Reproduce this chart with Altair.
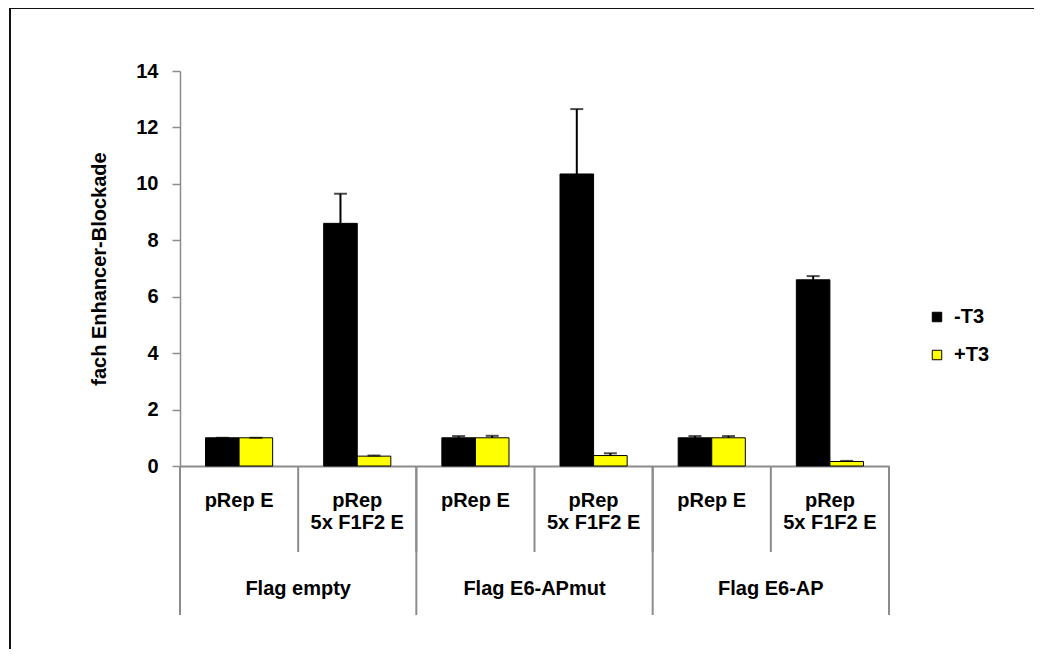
import altair as alt
import pandas as pd

groups = ["Flag empty", "Flag E6-APmut", "Flag E6-AP"]
subgroups = ["pRep E", "pRep|5x F1F2 E"]
treatments = ["-T3", "+T3"]
colors = ["#000000", "#FFFF00"]

# values [group][subgroup][treatment]
values = [
    [[1.0, 1.0], [8.6, 0.35]],
    [[1.0, 1.0], [10.35, 0.37]],
    [[1.0, 1.0], [6.6, 0.16]],
]
errors = [
    [[0.0, 0.0], [1.05, 0.02]],
    [[0.06, 0.07], [2.3, 0.08]],
    [[0.06, 0.06], [0.13, 0.02]],
]

W, H = 709, 395

cats = [g + "::" + s for g in groups for s in subgroups]

rows = []
for gi, g in enumerate(groups):
    for si, s in enumerate(subgroups):
        for ti, t in enumerate(treatments):
            v = values[gi][si][ti]
            e = errors[gi][si][ti]
            rows.append({"cat": g + "::" + s, "trt": t, "value": v, "upper": v + e})
df = pd.DataFrame(rows)

font = "Liberation Sans"
FS = 20

xscale = alt.Scale(domain=cats, paddingInner=0, paddingOuter=0)
xoff = alt.XOffset("trt:N", scale=alt.Scale(domain=treatments, paddingInner=0, paddingOuter=0.76), sort=treatments)

bars = alt.Chart(df).mark_bar(stroke="#000000", strokeWidth=1).encode(
    x=alt.X("cat:N", scale=xscale, sort=cats,
            axis=alt.Axis(title=None, ticks=False, domainColor="#8c8c8c", domainWidth=2,
                          labelAngle=0, labelFont=font, labelFontWeight="bold", labelFontSize=FS,
                          labelColor="#000000", labelPadding=24, labelLineHeight=22,
                          labelBaseline="top",
                          labelExpr="split(split(datum.label, '::')[1], '|')")),
    xOffset=xoff,
    y=alt.Y("value:Q", scale=alt.Scale(domain=[0, 14], nice=False),
            axis=alt.Axis(title="fach Enhancer-Blockade", values=list(range(0, 15, 2)),
                          grid=False, domainColor="#8c8c8c", domainWidth=1.5,
                          tickColor="#8c8c8c", tickSize=8, tickWidth=1.5,
                          labelFont=font, labelFontWeight="bold", labelFontSize=FS,
                          labelColor="#000000", labelPadding=14,
                          titleFont=font, titleFontWeight="bold", titleFontSize=FS,
                          titleColor="#000000", titlePadding=26)),
    color=alt.Color("trt:N", scale=alt.Scale(domain=treatments, range=colors), sort=treatments,
                    legend=alt.Legend(title=None, orient="none", legendX=747, legendY=236,
                                      symbolType="square", symbolSize=90,
                                      symbolStrokeColor="#000000", symbolStrokeWidth=1,
                                      labelFont=font, labelFontWeight="bold", labelFontSize=FS,
                                      labelColor="#000000", rowPadding=18, labelOffset=7)),
)

err_rule = alt.Chart(df).mark_rule(color="#000000", strokeWidth=2).encode(
    x=alt.X("cat:N", scale=xscale, sort=cats),
    xOffset=xoff,
    y="value:Q",
    y2="upper:Q",
)

err_cap = alt.Chart(df).mark_tick(color="#000000", size=13, thickness=2).encode(
    x=alt.X("cat:N", scale=xscale, sort=cats),
    xOffset=xoff,
    y="upper:Q",
)

sep_df = pd.DataFrame({"cat": cats})
sub_rules = alt.Chart(sep_df).mark_rule(color="#8c8c8c", strokeWidth=2).encode(
    x=alt.X("cat:N", scale=xscale, sort=cats, bandPosition=0),
    y=alt.value(H),
    y2=alt.value(H + 86),
)

grp_df = pd.DataFrame({
    "cat": [g + "::" + subgroups[0] for g in groups],
    "mid": [g + "::" + subgroups[1] for g in groups],
    "group": groups,
})
grp_rules = alt.Chart(grp_df).mark_rule(color="#8c8c8c", strokeWidth=2).encode(
    x=alt.X("cat:N", scale=xscale, sort=cats, bandPosition=0),
    y=alt.value(H),
    y2=alt.value(H + 149),
)
end_rule = alt.Chart(grp_df).mark_rule(color="#8c8c8c", strokeWidth=2).encode(
    x=alt.value(W),
    y=alt.value(H),
    y2=alt.value(H + 149),
)
grp_text = alt.Chart(grp_df).mark_text(font=font, fontWeight="bold", fontSize=FS,
                                        color="#000000", baseline="middle").encode(
    x=alt.X("mid:N", scale=xscale, sort=cats, bandPosition=0),
    y=alt.value(H + 123),
    text="group:N",
)

frame = alt.Chart(grp_df).mark_rect(fill=None, stroke="#111111", strokeWidth=2).encode(
    x=alt.value(-170), x2=alt.value(1000),
    y=alt.value(-63), y2=alt.value(800),
)

chart = alt.layer(frame, bars, err_rule, err_cap, sub_rules, grp_rules, end_rule, grp_text).properties(
    width=W, height=H,
    autosize=alt.AutoSizeParams(type="none"),
    padding={"left": 172, "top": 63, "right": 145, "bottom": 183},
    background="white",
).configure_view(stroke=None)

chart.save("out.html", embed_options={"renderer": "svg", "actions": False})
